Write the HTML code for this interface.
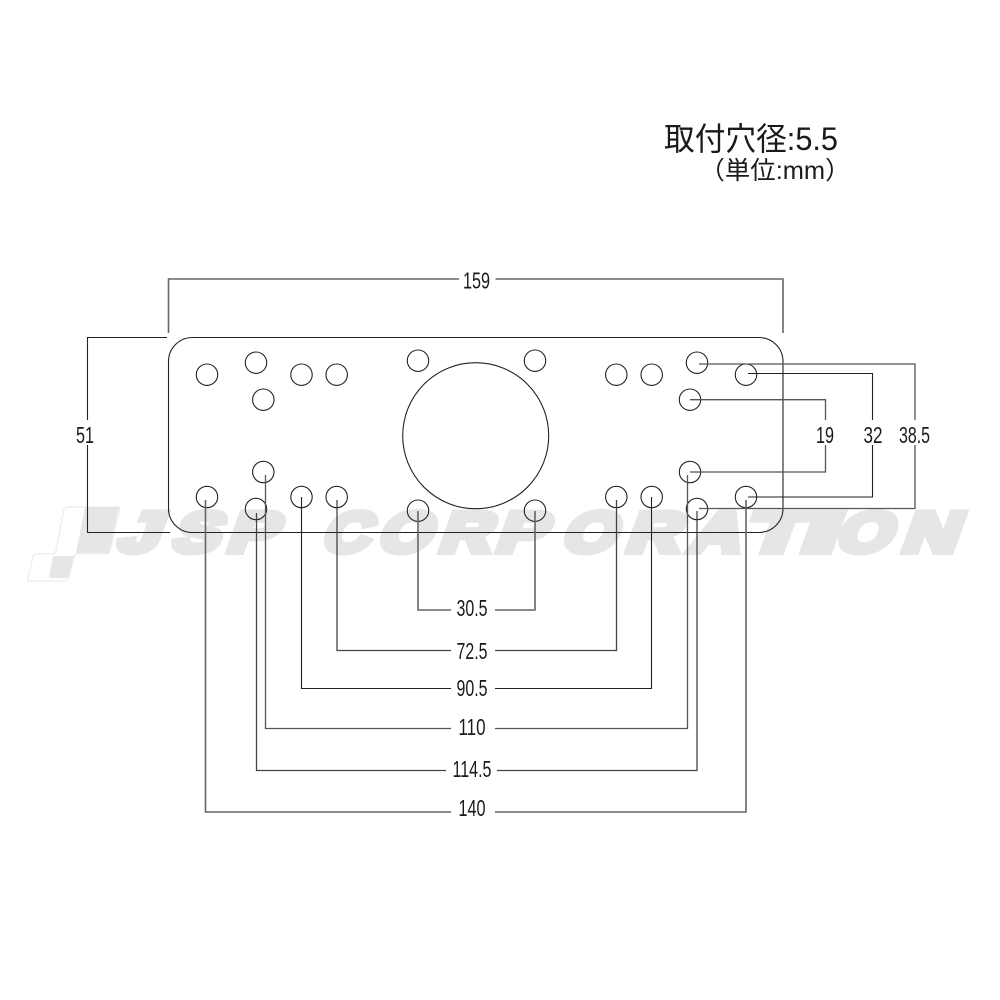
<!DOCTYPE html>
<html lang="ja"><head><meta charset="utf-8"><title>取付穴径</title>
<style>html,body{margin:0;padding:0;background:#fff}svg{display:block}
text{font-family:"Liberation Sans","Noto Sans CJK JP",sans-serif;fill:#1a1a1a}
.d{font-size:23px;text-anchor:middle}
.w text{font-size:56px;font-weight:700;fill:#e6e6e6;stroke:#e6e6e6;stroke-width:7;stroke-linejoin:miter}
</style></head><body>
<svg width="1000" height="1000" viewBox="0 0 1000 1000" xmlns="http://www.w3.org/2000/svg">
<!-- watermark -->
<path d="M64,509 Q65,507 68,507 H118 Q120,507 119.500,510 L110,551 Q109,554 106,554 H77 Q75,554 74,557 L69,577 Q68,581 64,581 H30 Q27,581 28,578 L33,557 Q34,554 37,554 H52 Q55,554 56,551 Z" fill="none" stroke="#ececec" stroke-width="1.200"/>
<path d="M85,507 H119 L109,553 H76 Z M53,556 H74 L68,578 H49 Z" fill="#e6e6e6"/>
<g class="w">
<text transform="translate(116,551.500) skewX(-20) scale(1.300,1)">J</text>
<text transform="translate(170,551.500) skewX(-20) scale(1.250,1)">S</text>
<text transform="translate(225,551.500) skewX(-20) scale(1.300,1)">P</text>
<text transform="translate(320,551.500) skewX(-20) scale(1.150,1)">C</text>
<text transform="translate(376,551.500) skewX(-20) scale(1.200,1)">O</text>
<text transform="translate(437,551.500) skewX(-20) scale(1.250,1)">R</text>
<text transform="translate(494,551.500) skewX(-20) scale(1.300,1)">P</text>
<text transform="translate(560,551.500) skewX(-20) scale(1.220,1)">O</text>
<text transform="translate(624,551.500) skewX(-20) scale(1.300,1)">R</text>
<text transform="translate(687,551.500) skewX(-20) scale(1.250,1)">A</text>
<text transform="translate(743,551.500) skewX(-20) scale(1.700,1)">T</text>
<text transform="translate(799,551.500) skewX(-20) scale(2.200,1)">I</text>
<text transform="translate(834,551.500) skewX(-20) scale(1.250,1)">O</text>
<text transform="translate(900,551.500) skewX(-20) scale(1.350,1)">N</text>
</g>
<!-- plate -->
<rect x="168.500" y="337.500" width="614.500" height="195" rx="24" fill="none" stroke="#222" stroke-width="1.100"/>
<g fill="none" stroke="#222" stroke-width="1.100">
<circle cx="475.700" cy="435.700" r="73"/>
<circle cx="207" cy="374.700" r="10.700"/><circle cx="256" cy="362.700" r="10.700"/><circle cx="301.500" cy="374.700" r="10.700"/><circle cx="336.700" cy="374.700" r="10.700"/><circle cx="263.300" cy="399.700" r="10.700"/><circle cx="418" cy="360.700" r="10.700"/>
<circle cx="207" cy="497" r="10.700"/><circle cx="263.300" cy="472" r="10.700"/><circle cx="301.500" cy="497" r="10.700"/><circle cx="336.700" cy="497" r="10.700"/><circle cx="256" cy="509" r="10.700"/><circle cx="418" cy="510.700" r="10.700"/>
<circle cx="535" cy="360.700" r="10.700"/><circle cx="616.300" cy="374.700" r="10.700"/><circle cx="651.700" cy="374.700" r="10.700"/><circle cx="697" cy="362.700" r="10.700"/><circle cx="746" cy="374.700" r="10.700"/><circle cx="690" cy="399.700" r="10.700"/>
<circle cx="535" cy="510.700" r="10.700"/><circle cx="616.300" cy="497" r="10.700"/><circle cx="651.700" cy="497" r="10.700"/><circle cx="690" cy="472" r="10.700"/><circle cx="697" cy="509" r="10.700"/><circle cx="746" cy="497" r="10.700"/>
</g>
<!-- dimension lines -->
<g fill="none" stroke="#222" stroke-width="1.100">
<path d="M168.500,333 V279 H459 M495.500,279 H783 V333" stroke="#666" stroke-width="1.600"/>
<path d="M167,337.500 H87.500 V420 M87.500,445 V532.500 H170"/>
<path d="M699,364 H915 V420 M915,445 V508.500 H699" stroke="#555" stroke-width="1.300"/>
<path d="M748,373.500 H872.500 V420 M872.500,445 V497 H748"/>
<path d="M690,399.700 H825.500 V420 M825.500,445 V472 H690" stroke="#555" stroke-width="1.300"/>
<path d="M418,511 V610 H451 M495,610 H535 V511" stroke="#666" stroke-width="1.600"/>
<path d="M337,500 V650.500 H451 M495,650.500 H616.500 V500" stroke="#444" stroke-width="1.300"/>
<path d="M301.500,497 V688.500 H451 M495,688.500 H651.500 V497"/>
<path d="M265.500,475 V728.500 H451 M495,728.500 H687.500 V475" stroke="#555" stroke-width="1.300"/>
<path d="M256.500,513 V770.500 H446 M497,770.500 H697 V511" stroke="#444" stroke-width="1.300"/>
<path d="M205.500,500 V812 H451 M495,812 H746 V500" stroke="#666" stroke-width="1.600"/>
</g>
<!-- labels -->
<g class="labels">
<text class="d" x="476.500" y="288.500" textLength="27" lengthAdjust="spacingAndGlyphs">159</text>
<text class="d" x="85" y="443" textLength="18" lengthAdjust="spacingAndGlyphs">51</text>
<text class="d" x="825" y="443" textLength="18" lengthAdjust="spacingAndGlyphs">19</text>
<text class="d" x="873" y="443" textLength="19" lengthAdjust="spacingAndGlyphs">32</text>
<text class="d" x="914.500" y="443" textLength="31" lengthAdjust="spacingAndGlyphs">38.5</text>
<text class="d" x="472" y="616" textLength="31" lengthAdjust="spacingAndGlyphs">30.5</text>
<text class="d" x="472" y="659" textLength="31" lengthAdjust="spacingAndGlyphs">72.5</text>
<text class="d" x="472" y="696" textLength="31" lengthAdjust="spacingAndGlyphs">90.5</text>
<text class="d" x="472" y="735" textLength="27" lengthAdjust="spacingAndGlyphs">110</text>
<text class="d" x="472" y="777" textLength="39" lengthAdjust="spacingAndGlyphs">114.5</text>
<text class="d" x="472" y="816" textLength="27" lengthAdjust="spacingAndGlyphs">140</text>
</g>
<!-- title -->
<text x="664" y="150" font-size="32" textLength="174" lengthAdjust="spacingAndGlyphs">取付穴径:5.5</text>
<text x="699.500" y="179" font-size="25" textLength="151" lengthAdjust="spacingAndGlyphs">（単位:mm）</text>
</svg>
</body></html>
